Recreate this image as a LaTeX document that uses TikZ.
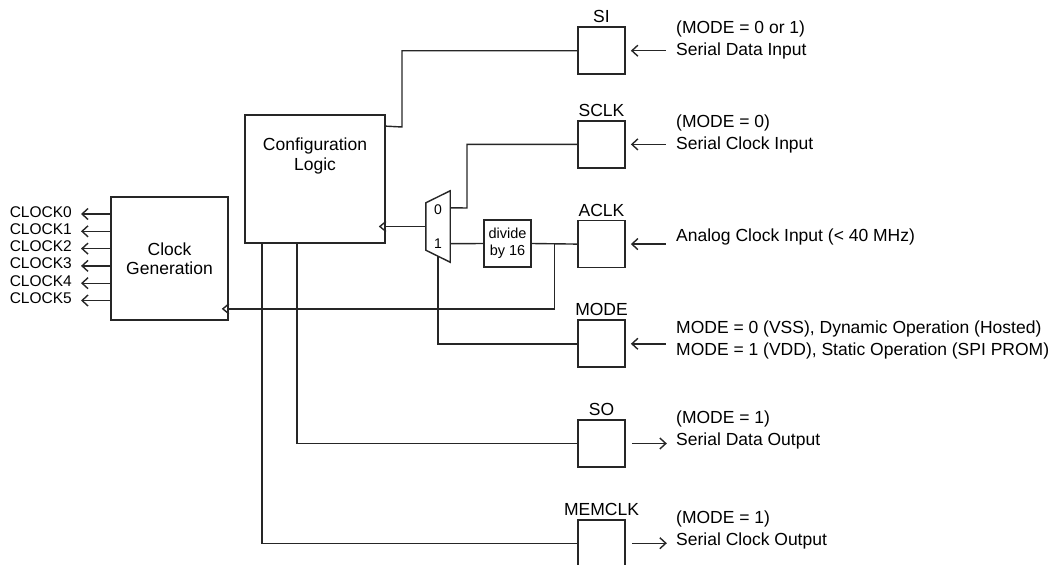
\documentclass[tikz,border=0pt]{standalone}
\usepackage{fontspec}
\setmainfont{Liberation Sans}
\usetikzlibrary{arrows.meta, positioning, calc}

\begin{document}
\begin{tikzpicture}[
  x=1pt, y=-1pt,
  font=\fontsize{17.5}{21.5}\selectfont,
  node distance=51pt,
  line/.style={draw=black!85, line width=1.4pt},
  pad/.style={rectangle, draw=black!85, line width=1.7pt,
              minimum width=47pt, minimum height=47pt, inner sep=0pt},
  blk/.style={rectangle, draw=black!85, line width=1.7pt,
              inner sep=0pt, align=center},
  desc/.style={anchor=north west, inner sep=0pt, align=left},
  arr/.style={line, -{Straight Barb[length=6pt,width=11pt]}}
]
  \useasboundingbox (0,0) rectangle (1053,565);

  % pins
  \node[pad, label=above:SI] (si) at (601.5,50.7) {};
  \node[pad, label=above:SCLK, below=45pt of si] (sclk) {};
  \node[pad, label=above:ACLK, below=of sclk] (aclk) {};
  \node[pad, label=above:MODE, below=of aclk] (mode) {};
  \node[pad, label=above:SO, below=of mode] (so) {};
  \node[pad, label=above:MEMCLK, below=of so] (memclk) {};

  % blocks
  \node[blk, minimum width=140pt, minimum height=128pt] (cfg) at (315,179) {};
  \node[below=20pt of cfg.north, align=center,
        font=\fontsize{17.5}{20}\selectfont] (cfgtxt) {Configuration\\Logic};
  \node[blk, minimum width=117pt, minimum height=123pt,
        font=\fontsize{17.5}{18.5}\selectfont] (clkgen) at (169.5,258.5) {Clock\\Generation};
  \node[blk, line width=1.5pt, minimum width=47pt, minimum height=47pt,
        font=\fontsize{14.5}{17}\selectfont] (div) at (507.5,243.5) {divide\\by 16};

  % mux
  \node[minimum width=24pt, minimum height=71pt, inner sep=0pt] (mux) at (438,226.5) {};
  \draw[line] (mux.north east) -- (mux.south east) -- ([yshift=12pt]mux.south west)
    -- ([yshift=-12pt]mux.north west) -- cycle;
  \node[font=\fontsize{14}{16}\selectfont] (sel0) at (438,210) {0};
  \node[font=\fontsize{14}{16}\selectfont] (sel1) at (438,244) {1};
  \coordinate (m0) at ([yshift=-17pt]mux.north east);
  \coordinate (m1) at ([yshift=18.5pt]mux.south east);

  % wiring
  \draw[line] (si.west) -| (402,127) -- ([yshift=-12pt]cfg.north east);
  \draw[line] (sclk.west) -| (467,208) -- (m0);
  \draw[line] (m1) -- (div.west);
  \draw[line] (div.east) -- (aclk.west);
  \coordinate (jn) at ($(div.east)!0.5!(aclk.west)$);
  \coordinate (gin) at ([yshift=12pt]clkgen.south east);
  \draw[line] (jn) |- (gin);
  \coordinate (cin) at (cfg.east |- mux.west);
  \draw[line] (mux.west) -- (cin);
  \draw[line] ([yshift=6pt]mux.south) |- (mode.west);
  \draw[line] ([xshift=-18pt]cfg.south) |- (so.west);
  \draw[line] ([xshift=-53pt]cfg.south) |- (memclk.west);

  % clock inputs
  \draw[line] ([yshift=5pt]cin) -- ++(-6,5) -- ++(6,5);
  \draw[line] ([yshift=5pt]gin) -- ++(-6,5) -- ++(6,5);

  % clock outputs
  \foreach \i in {0,...,5} {
    \coordinate (co\i) at (81,{214+17.3*\i});
    \node[anchor=base east, inner sep=0pt, font=\fontsize{15.5}{18}\selectfont]
      (ck\i) at (72,{217+17.3*\i}) {CLOCK\i};
    \draw[arr] (clkgen.west |- co\i) -- (co\i);
  }

  % pin arrows
  \draw[arr] ([xshift=40pt]si.east) -- ([xshift=5pt]si.east);
  \draw[arr] ([xshift=40pt]sclk.east) -- ([xshift=5pt]sclk.east);
  \draw[arr] ([xshift=40pt]aclk.east) -- ([xshift=5pt]aclk.east);
  \draw[arr] ([xshift=40pt]mode.east) -- ([xshift=5pt]mode.east);
  \draw[arr] ([xshift=6pt]so.east) -- ([xshift=41pt]so.east);
  \draw[arr] ([xshift=6pt]memclk.east) -- ([xshift=41pt]memclk.east);

  % descriptions
  \node[desc] (sidesc) at (676,21) {(MODE = 0 or 1)\\Serial Data Input};
  \node[desc] (sclkdesc) at (676,115) {(MODE = 0)\\Serial Clock Input};
  \node[desc] (aclkdesc) at (676,229) {Analog Clock Input (< 40 MHz)};
  \node[desc] (modedesc) at (676,321) {MODE = 0 (VSS), Dynamic Operation (Hosted)\\MODE = 1 (VDD), Static Operation (SPI PROM)};
  \node[desc] (sodesc) at (676,411) {(MODE = 1)\\Serial Data Output};
  \node[desc] (memdesc) at (676,511) {(MODE = 1)\\Serial Clock Output};
\end{tikzpicture}
\end{document}
